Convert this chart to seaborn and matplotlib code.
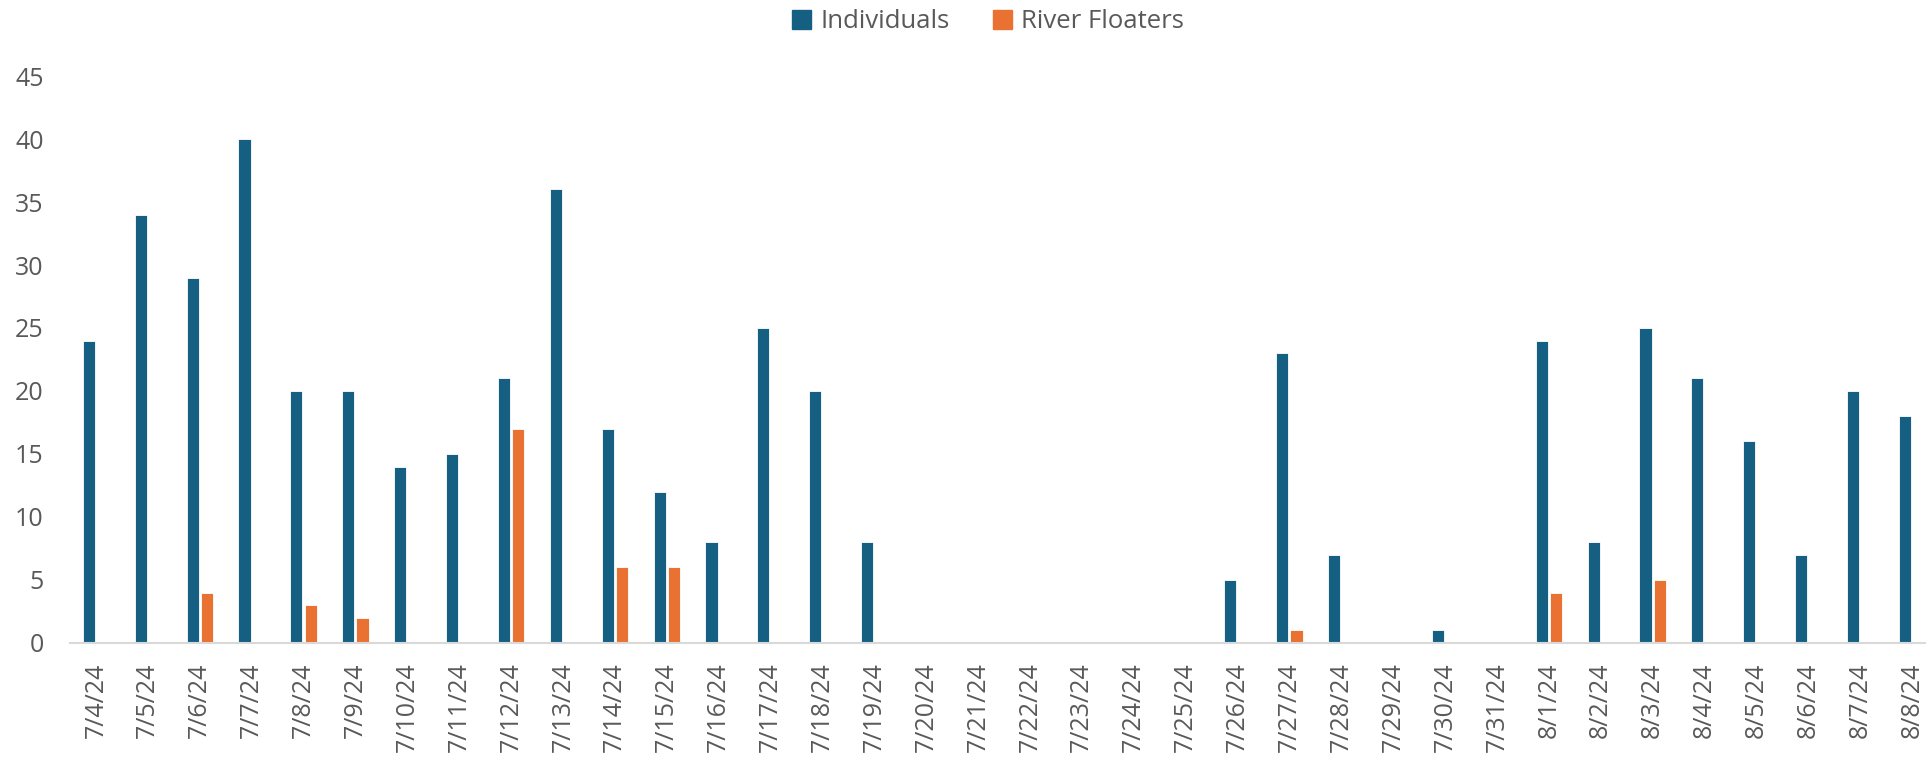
import pandas as pd
import numpy as np
import matplotlib.pyplot as plt
import seaborn as sns

dates = ["7/4/24", "7/5/24", "7/6/24", "7/7/24", "7/8/24", "7/9/24", "7/10/24", "7/11/24",
         "7/12/24", "7/13/24", "7/14/24", "7/15/24", "7/16/24", "7/17/24", "7/18/24", "7/19/24",
         "7/20/24", "7/21/24", "7/22/24", "7/23/24", "7/24/24", "7/25/24", "7/26/24", "7/27/24",
         "7/28/24", "7/29/24", "7/30/24", "7/31/24", "8/1/24", "8/2/24", "8/3/24", "8/4/24",
         "8/5/24", "8/6/24", "8/7/24", "8/8/24"]
individuals = [24, 34, 29, 40, 20, 20, 14, 15, 21, 36, 17, 12, 8, 25, 20, 8,
               0, 0, 0, 0, 0, 0, 5, 23, 7, 0, 1, 0, 24, 8, 25, 21, 16, 7, 20, 18]
river_floaters = [0, 0, 4, 0, 3, 2, 0, 0, 17, 0, 6, 6, 0, 0, 0, 0,
                  0, 0, 0, 0, 0, 0, 0, 1, 0, 0, 0, 0, 4, 0, 5, 0, 0, 0, 0, 0]
series_names = ["Individuals", "River Floaters"]
colors = ["#156082", "#E97132"]

TEXT = "#595959"

df = pd.DataFrame({
    "date": dates * 2,
    "count": individuals + river_floaters,
    "series": [series_names[0]] * len(dates) + [series_names[1]] * len(dates),
})

sns.set_style("white")
plt.rcParams["font.family"] = ["Open Sans", "DejaVu Sans"]

fig = plt.figure(figsize=(19.26, 7.57), dpi=100)
ax = fig.add_axes([0.03634, 0.1506, 0.9699, 0.749])

sns.barplot(data=df, x="date", y="count", hue="series", order=dates,
            hue_order=series_names, palette=colors, saturation=1,
            width=0.55, gap=0.15, edgecolor="white", linewidth=0.6, ax=ax)

ax.set_xlim(-0.5, len(dates) - 0.5)
ax.set_ylim(0, 45)
ax.set_yticks(np.arange(0, 46, 5))
ax.set_xlabel("")
ax.set_ylabel("")
ax.tick_params(axis="y", length=0, pad=19, labelsize=18, labelcolor=TEXT)
ax.tick_params(axis="x", length=0, pad=14, labelsize=18, labelcolor=TEXT, rotation=90)
for lbl in ax.get_xticklabels():
    lbl.set_va("top")
    lbl.set_ha("center")

for side in ["top", "right", "left"]:
    ax.spines[side].set_visible(False)
ax.spines["bottom"].set_color("#D9D9D9")
ax.spines["bottom"].set_linewidth(1.5)

ax.get_legend().remove()
handles = [plt.Rectangle((0, 0), 1, 1, color=c) for c in colors]
fig.legend(handles, series_names, loc="upper center", bbox_to_anchor=(0.513, 1.018),
           ncol=2, frameon=False, fontsize=18.5, labelcolor=TEXT,
           handlelength=0.75, handleheight=0.75, handletextpad=0.35, columnspacing=1.7)

fig.savefig("out.png", dpi=100)
